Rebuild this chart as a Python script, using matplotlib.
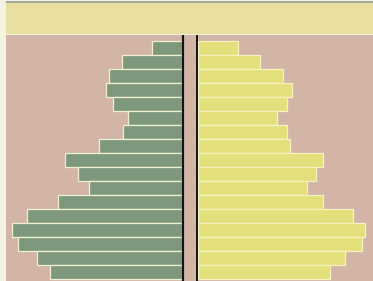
import matplotlib.pyplot as plt
from matplotlib.patches import Rectangle

# age groups, oldest at top
groups = ['80+', '75-79', '70-74', '65-69', '60-64', '55-59', '50-54', '45-49',
          '40-44', '35-39', '30-34', '25-29', '20-24', '15-19', '10-14', '5-9', '0-4']
left_vals = [30, 60, 73, 76, 69, 54, 59, 83, 117, 104, 93, 124, 155, 170, 164, 145, 132]
right_vals = [40, 62, 85, 94, 89, 79, 89, 92, 125, 118, 109, 125, 155, 167, 164, 147, 132]

green = '#7e987e'
yellow = '#e3e07c'
pink = '#d3b5a8'

fig = plt.figure(figsize=(3.73, 2.81), dpi=100)
fig.patch.set_facecolor('#f4f2e0')

# top band
fig.patches.append(Rectangle((6/373, 247/281), 367/373, 31/281, transform=fig.transFigure,
                             facecolor='#e8dfa0', edgecolor='none'))
fig.patches.append(Rectangle((6/373, 278/281), 367/373, 1.5/281, transform=fig.transFigure,
                             facecolor='#a8a6a0', edgecolor='none'))

ax = fig.add_axes([6/373, 0, 367/373, 246/281])
ax.set_facecolor(pink)

n = len(groups)
ypos = list(range(n - 1, -1, -1))
gap = 8
ax.barh(ypos, [-v for v in left_vals], left=-gap, height=1.0, color=green,
        edgecolor='#eef0d0', linewidth=0.9)
ax.barh(ypos, right_vals, left=gap, height=1.0, color=yellow,
        edgecolor='#f6f2c0', linewidth=0.9)
ax.axvline(-7, color='#151515', lw=1.6)
ax.axvline(6.5, color='#151515', lw=1.4)

ax.set_xlim(-184, 183)
ax.set_ylim(-0.64, n - 0.07)
ax.set_xticks([])
ax.set_yticks([])
for s in ax.spines.values():
    s.set_visible(False)

fig.savefig('out.png', dpi=100)
